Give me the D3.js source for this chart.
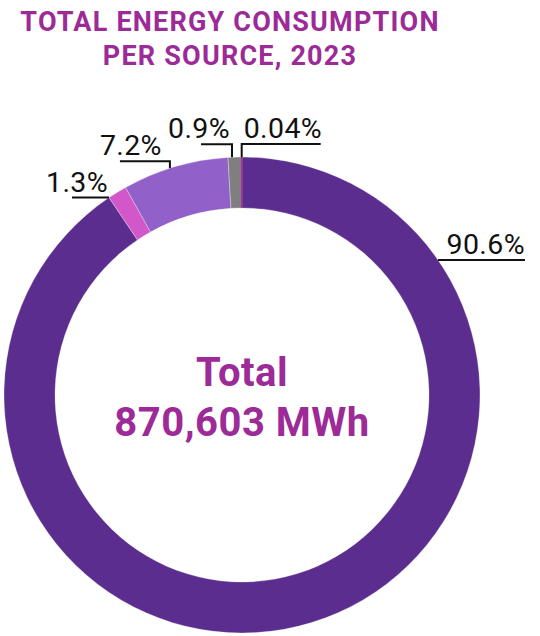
<!DOCTYPE html>
<html>
<head>
<meta charset="utf-8">
<script src="https://cdn.jsdelivr.net/npm/d3@7"></script>
<style>
  body { margin: 0; background: #fff; }
  svg { display: block; }
  .title { font-family: Roboto, sans-serif; font-weight: 700; fill: #9c2a97; }
  .total { font-family: Roboto, sans-serif; font-weight: 700; fill: #9c2a97; }
  .lbl { font-family: Roboto, sans-serif; font-weight: 400; fill: #111; }
</style>
</head>
<body>
<svg id="chart"></svg>
<script>
// data
const sources = ["Electricity", "Source B", "Source C", "Source D", "Source E"];
const shares = [90.6, 1.3, 7.2, 0.9, 0.04];
const shareLabels = ["90.6%", "1.3%", "7.2%", "0.9%", "0.04%"];
const colors = ["#5b2d8e", "#d257c8", "#9160c9", "#7f7f7f", "#a62d9e"];
const titleLines = ["TOTAL ENERGY CONSUMPTION", "PER SOURCE, 2023"];
const centerLines = ["Total", "870,603 MWh"];

// leader layout per slice: t = position inside slice, rise = vertical, run = horizontal
const leader = [
	{t: 0.17, rise: 0, run: 87, anchor: "end", dx: 87},
	{t: 0.0, rise: 0, run: -37, anchor: "end", dx: -1},
	{t: 0.45, rise: 7, run: -50, anchor: "end", dx: -8},
	{t: 0.3, rise: 13, run: -31, anchor: "end", dx: -2},
	{t: 0.5, rise: 13, run: 79, anchor: "start", dx: 2}
];

const width = 540, height = 636;
const cx = 242, cy = 395, R = 238, r = 187;

const svg = d3.select("#chart")
	.attr("width", width)
	.attr("height", height);

svg.selectAll("text.title")
	.data(titleLines)
	.enter().append("text")
	.attr("class", "title")
	.attr("x", 230)
	.attr("y", (d, i) => 31 + i*34)
	.attr("text-anchor", "middle")
	.style("font-size", "27px")
	.style("letter-spacing", "1.2px")
	.text(d => d);

let pie = d3.pie().sort(null).value(d => d);
let arcs = pie(shares);
let arc = d3.arc().innerRadius(r).outerRadius(R);

let g = svg.append("g").attr("transform", `translate(${cx},${cy})`);

g.selectAll("path.slice")
	.data(arcs)
	.enter().append("path")
	.attr("class", "slice")
	.attr("d", arc)
	.attr("fill", (d, i) => colors[i])
	.attr("stroke", (d, i) => (d.endAngle - d.startAngle) < 0.01 ? colors[i] : "#fff")
	.attr("stroke-width", (d, i) => (d.endAngle - d.startAngle) < 0.01 ? 1 : 0.3);

// leaders and labels
arcs.forEach(function(d, i) {
	let L = leader[i];
	let a = d.startAngle + (d.endAngle - d.startAngle)*L.t;
	let x0 = R*Math.sin(a), y0 = -R*Math.cos(a);
	let y1 = y0 - L.rise;
	let pts = [[x0, y0], [x0, y1], [x0 + L.run, y1]];
	g.append("path")
		.attr("d", d3.line()(pts))
		.attr("fill", "none")
		.attr("stroke", "#111")
		.attr("stroke-width", 2);
	g.append("text")
		.attr("class", "lbl")
		.attr("x", x0 + L.dx)
		.attr("y", y1 - 6)
		.attr("text-anchor", L.anchor)
		.style("font-size", "28.5px")
		.style("letter-spacing", "0.4px")
		.text(shareLabels[i]);
});

g.selectAll("text.total")
	.data(centerLines)
	.enter().append("text")
	.attr("class", "total")
	.attr("x", 0)
	.attr("y", (d, i) => -9 + i*50)
	.attr("text-anchor", "middle")
	.style("font-size", "40px")
	.style("letter-spacing", "0.5px")
	.text(d => d);
</script>
</body>
</html>
